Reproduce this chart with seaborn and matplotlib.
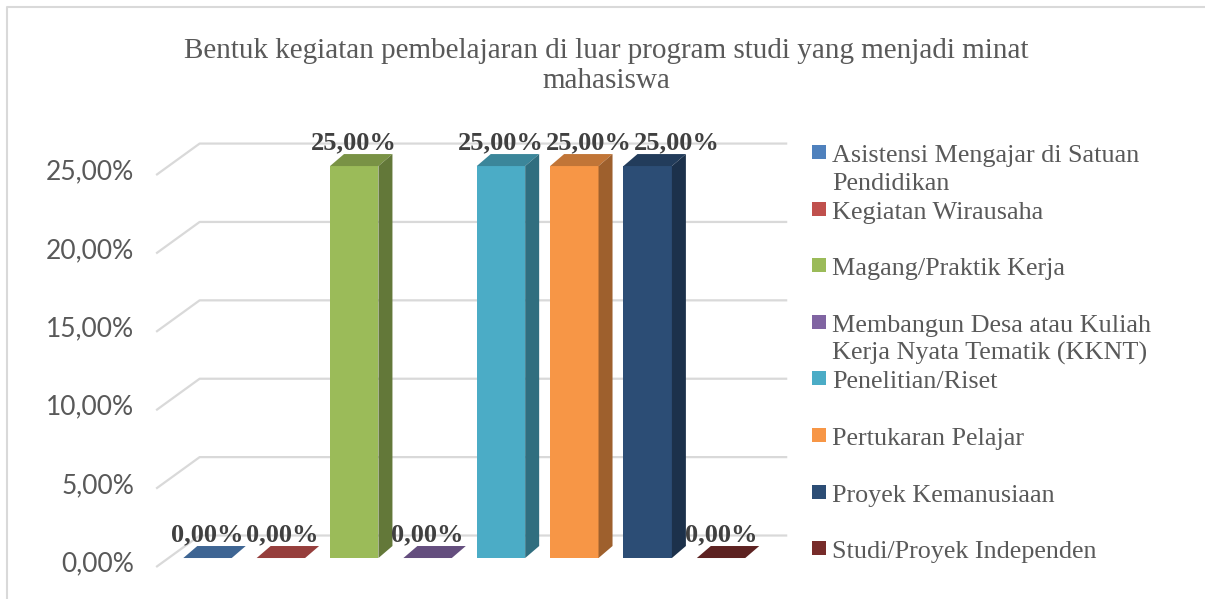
import numpy as np
import pandas as pd
import seaborn as sns
import matplotlib.pyplot as plt
from matplotlib import transforms
from matplotlib.patches import Polygon, Rectangle
from matplotlib.lines import Line2D
from matplotlib.colors import to_rgb

# ---- data ----
categories = [
    "Asistensi Mengajar di Satuan Pendidikan",
    "Kegiatan Wirausaha",
    "Magang/Praktik Kerja",
    "Membangun Desa atau Kuliah Kerja Nyata Tematik (KKNT)",
    "Penelitian/Riset",
    "Pertukaran Pelajar",
    "Proyek Kemanusiaan",
    "Studi/Proyek Independen",
]
legend_labels = [
    "Asistensi Mengajar di Satuan\nPendidikan",
    "Kegiatan Wirausaha",
    "Magang/Praktik Kerja",
    "Membangun Desa atau Kuliah\nKerja Nyata Tematik (KKNT)",
    "Penelitian/Riset",
    "Pertukaran Pelajar",
    "Proyek Kemanusiaan",
    "Studi/Proyek Independen",
]
values = [0.0, 0.0, 25.0, 0.0, 25.0, 25.0, 25.0, 0.0]
colors = ["#4F81BD", "#C0504D", "#9BBB59", "#8064A2",
          "#4BACC6", "#F79646", "#2C4D75", "#772C2A"]
y_ticks = [0, 5, 10, 15, 20, 25]
title = ("Bentuk kegiatan pembelajaran di luar program studi yang menjadi minat\n"
         "mahasiswa")


def pct(v):
    return f"{v:.2f}".replace(".", ",") + "%"


sns.set_theme(style="white")
plt.rcParams["font.family"] = ["Liberation Serif", "DejaVu Serif"]

W, H = 1205, 599
fig = plt.figure(figsize=(W / 100, H / 100), dpi=100)
fig.patch.set_facecolor("white")


def box(l, t, r, b):
    return [l / W, 1 - b / H, (r - l) / W, (b - t) / H]


ax = fig.add_axes(box(150, 130, 790, 590))
ax.set_facecolor("none")

df = pd.DataFrame({"kategori": categories, "persen": values})
sns.barplot(data=df, x="kategori", y="persen", hue="kategori",
            palette=colors, width=0.66, saturation=1, linewidth=0,
            legend=False, ax=ax, zorder=3)

ax.set_xlim(-0.784, 7.94)
ax.set_ylim(-2.04, 27.3)
for s in ax.spines.values():
    s.set_visible(False)
ax.set_xticks([])
ax.set_yticks([])
ax.set_xlabel("")
ax.set_ylabel("")


def px2data(dx, dy):
    """Convert a pixel displacement (y up) to data units."""
    inv = ax.transData.inverted()
    x0, y0 = inv.transform((0, 0))
    x1, y1 = inv.transform((dx, dy))
    return x1 - x0, y1 - y0


# oblique projection: wall depth, bar depth
front = px2data(-12.5, -9.0)
back = px2data(31.0, 22.5)
bar_d = px2data(14.0, 12.0)
x_left, x_right = -0.53, 7.48

grid_col = "#D9D9D9"
for v in y_ticks:
    xs = [x_left + front[0], x_left + back[0], x_right + back[0]]
    ys = [v + front[1], v + back[1], v + back[1]]
    ax.plot(xs, ys, color=grid_col, lw=1.6, zorder=1, solid_capstyle="butt")

# tick labels on the front wall
tick_tr = transforms.blended_transform_factory(ax.transAxes, ax.transData) + \
    transforms.ScaledTranslation(-16 / 100, -6 / 100, fig.dpi_scale_trans)
for v in y_ticks:
    ax.text(0, v, pct(v), transform=tick_tr, ha="right", va="center",
            fontsize=19, color="#595959", family=["Lato", "DejaVu Sans"])


def shade(c, f):
    r, g, b = to_rgb(c)
    return (r * f, g * f, b * f)


# extrude each bar into a prism
bars = sorted(ax.patches, key=lambda p: p.get_x())
for p in bars:
    x0, w, h = p.get_x(), p.get_width(), p.get_height()
    c = p.get_facecolor()
    dx, dy = bar_d
    top = Polygon([(x0, h), (x0 + w, h), (x0 + w + dx, h + dy), (x0 + dx, h + dy)],
                  closed=True, facecolor=shade(c, 0.78), edgecolor="none", zorder=3)
    ax.add_patch(top)
    if h > 0:
        side = Polygon([(x0 + w, 0), (x0 + w + dx, dy), (x0 + w + dx, h + dy), (x0 + w, h)],
                       closed=True, facecolor=shade(c, 0.64), edgecolor="none", zorder=3)
        ax.add_patch(side)

# value labels above each bar
label_tr = transforms.offset_copy(ax.transData, fig=fig, x=0, y=17, units="dots")
labels = []
for p in bars:
    xc = p.get_x() + p.get_width() / 2
    h = p.get_height()
    t = ax.text(xc, h, pct(h), transform=label_tr, ha="center", va="baseline",
                fontsize=19, fontweight="bold", color="#404040", zorder=5)
    labels.append((h, t))

# nudge labels in the same row so they do not overlap
fig.canvas.draw()
renderer = fig.canvas.get_renderer()
for row in sorted(set(h for h, _ in labels)):
    prev_right = None
    for h, t in labels:
        if h != row:
            continue
        bb = t.get_window_extent(renderer)
        if prev_right is not None and bb.x0 < prev_right + 2:
            shift = prev_right + 2 - bb.x0
            t.set_transform(t.get_transform() +
                            transforms.Affine2D().translate(shift, 0))
            bb = t.get_window_extent(renderer)
        prev_right = bb.x1

# title
fig.text(606 / W, 1 - 66 / H, title, ha="center", va="center",
         fontsize=21, color="#595959", linespacing=1.25)

# legend: one entry per slot, wrapped lines stacked below the first
base0, step, line_gap = 162, 56.6, 28
for i, (lab, col) in enumerate(zip(legend_labels, colors)):
    b = base0 + step * i
    fig.add_artist(Rectangle((812 / W, 1 - (b - 3) / H), 14 / W, 14 / H,
                             transform=fig.transFigure, facecolor=col,
                             edgecolor="none"))
    for j, line in enumerate(lab.split("\n")):
        fig.text(832 / W, 1 - (b + j * line_gap) / H, line, ha="left",
                 va="baseline", fontsize=18.8, color="#595959")

# chart frame
fig.add_artist(Line2D([7 / W, 7 / W, 1.0], [0.0, 1 - 7 / H, 1 - 7 / H],
                      transform=fig.transFigure, color="#D9D9D9", lw=1.5))

fig.savefig("out.png", dpi=100)
